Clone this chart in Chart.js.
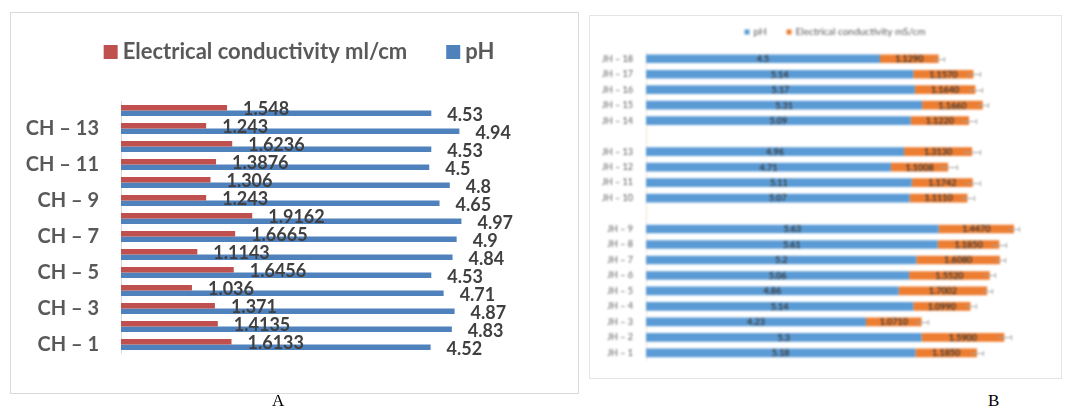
<!DOCTYPE html>
<html>
<head>
<meta charset="utf-8">
<script src="https://cdn.jsdelivr.net/npm/chart.js@4.4.0/dist/chart.umd.min.js"></script>
<style>
  html, body { margin: 0; padding: 0; background: #ffffff; }
  body { width: 1065px; height: 412px; position: relative; overflow: hidden; font-family: Lato, sans-serif; }
  .frame { position: absolute; box-sizing: border-box; border: 1px solid #d9d9d9; }
  #frameA { left: 10px; top: 12px; width: 569px; height: 382px; }
  #frameB { left: 589px; top: 15px; width: 473px; height: 364px; border-color: #e4e4e4; }
  canvas { position: absolute; }
  #chartA { left: 10px; top: 12px; }
  #chartB { left: 589px; top: 15px; filter: blur(0.9px); }
  .cap { position: absolute; top: 391px; font-family: "Liberation Serif", "DejaVu Serif", serif; font-size: 17px; color: #000; }
</style>
</head>
<body>
<div class="frame" id="frameA"></div>
<div class="frame" id="frameB"></div>
<canvas id="chartA" width="569" height="382"></canvas>
<canvas id="chartB" width="473" height="364"></canvas>
<div class="cap" style="left:272px;">A</div>
<div class="cap" style="left:988px;">B</div>

<script>
// ---- Panel A: CH samples (listed from CH – 1 upward) ----
const chCategories = ['CH – 1', 'CH – 2', 'CH – 3', 'CH – 4', 'CH – 5', 'CH – 6', 'CH – 7',
                      'CH – 8', 'CH – 9', 'CH – 10', 'CH – 11', 'CH – 12', 'CH – 13', 'CH – 14'];
const chConductivity = [1.6133, 1.4135, 1.371, 1.036, 1.6456, 1.1143, 1.6665,
                        1.9162, 1.243, 1.306, 1.3876, 1.6236, 1.243, 1.548];
const chPH = [4.52, 4.83, 4.87, 4.71, 4.53, 4.84, 4.9,
              4.97, 4.65, 4.8, 4.5, 4.53, 4.94, 4.53];
const chTickLabels = ['CH – 1', 'CH – 3', 'CH – 5', 'CH – 7', 'CH – 9', 'CH – 11', 'CH – 13'];

// ---- Panel B: JH samples (listed from JH – 1 upward, '' marks a spacer row) ----
const jhCategories = ['JH – 1', 'JH – 2', 'JH – 3', 'JH – 4', 'JH – 5', 'JH – 6', 'JH – 7', 'JH – 8', 'JH – 9',
                      '',
                      'JH – 10', 'JH – 11', 'JH – 12', 'JH – 13',
                      '',
                      'JH – 14', 'JH – 15', 'JH – 16', 'JH – 17', 'JH – 18'];
const jhPH = [5.18, 5.3, 4.23, 5.14, 4.86, 5.06, 5.2, 5.61, 5.63,
              null,
              5.07, 5.11, 4.71, 4.96,
              null,
              5.09, 5.31, 5.17, 5.14, 4.5];
const jhConductivity = [1.1850, 1.5900, 1.0710, 1.0990, 1.7002, 1.5520, 1.6080, 1.1850, 1.4470,
                        null,
                        1.1110, 1.1742, 1.1008, 1.3130,
                        null,
                        1.1220, 1.1660, 1.1640, 1.1570, 1.1290];
const jhConductivityError = [0.12, 0.13, 0.12, 0.10, 0.10, 0.10, 0.10, 0.13, 0.10,
                             null,
                             0.12, 0.13, 0.17, 0.15,
                             null,
                             0.13, 0.10, 0.13, 0.13, 0.10];

// Category axes run top-to-bottom, so the lists are flipped for display.
const flip = a => a.slice().reverse();

// Legend drawn as one centred row of square swatches.
const rowLegend = {
  id: 'rowLegend',
  afterDraw(chart, args, o) {
    const ctx = chart.ctx;
    ctx.save();
    ctx.font = o.font;
    ctx.textBaseline = 'middle';
    ctx.textAlign = 'left';
    const widths = o.items.map(it => o.box + o.textGap + ctx.measureText(it.text).width);
    const total = widths.reduce((s, w) => s + w, 0) + o.itemGap * (o.items.length - 1);
    let x = o.cx - total / 2;
    o.items.forEach((it, i) => {
      ctx.fillStyle = it.color;
      ctx.fillRect(x, o.cy - o.box / 2, o.box, o.box);
      ctx.fillStyle = o.textColor;
      ctx.fillText(it.text, x + o.box + o.textGap, o.cy + o.textShift);
      x += widths[i] + o.itemGap;
    });
    ctx.restore();
  }
};

// Value labels placed just past the end of each bar.
const endLabels = {
  id: 'endLabels',
  afterDatasetsDraw(chart, args, o) {
    const ctx = chart.ctx;
    ctx.save();
    ctx.font = o.font;
    ctx.fillStyle = o.color;
    ctx.textAlign = 'left';
    ctx.textBaseline = 'middle';
    chart.data.datasets.forEach((ds, di) => {
      chart.getDatasetMeta(di).data.forEach((bar, i) => {
        const v = ds.data[i];
        if (v == null) return;
        ctx.fillText(String(v), bar.x + o.dx, bar.y + o.dy);
      });
    });
    ctx.restore();
  }
};

// Value labels centred inside each stacked segment, plus the error whiskers.
const segmentLabels = {
  id: 'segmentLabels',
  afterDatasetsDraw(chart, args, o) {
    const ctx = chart.ctx;
    const xs = chart.scales.x;
    ctx.save();
    // whiskers at the end of the stack
    const top = chart.data.datasets[1];
    const meta1 = chart.getDatasetMeta(1);
    ctx.strokeStyle = o.whiskerColor;
    ctx.lineWidth = 1;
    meta1.data.forEach((bar, i) => {
      const err = o.errors[i];
      if (err == null || top.data[i] == null) return;
      const end = chart.data.datasets[0].data[i] + top.data[i];
      const x0 = xs.getPixelForValue(end - err);
      const x1 = xs.getPixelForValue(end + err);
      const y = Math.round(bar.y) + 0.5;
      ctx.beginPath();
      ctx.moveTo(x0, y); ctx.lineTo(x1, y);
      ctx.moveTo(Math.round(x1) + 0.5, y - 2.5); ctx.lineTo(Math.round(x1) + 0.5, y + 2.5);
      ctx.stroke();
    });
    ctx.font = o.font;
    ctx.fillStyle = o.color;
    ctx.textAlign = 'center';
    ctx.textBaseline = 'middle';
    chart.data.datasets.forEach((ds, di) => {
      chart.getDatasetMeta(di).data.forEach((bar, i) => {
        const v = ds.data[i];
        if (v == null) return;
        const txt = di === 1 ? v.toFixed(4) : String(v);
        ctx.fillText(txt, (bar.x + bar.base) / 2, bar.y + 0.5);
      });
    });
    ctx.restore();
  }
};

// ---------- Panel A ----------
new Chart(document.getElementById('chartA'), {
  type: 'bar',
  data: {
    labels: flip(chCategories),
    datasets: [
      { label: 'Electrical conductivity ml/cm', data: flip(chConductivity),
        backgroundColor: '#c0504d', categoryPercentage: 0.6, barPercentage: 1.0 },
      { label: 'pH', data: flip(chPH),
        backgroundColor: '#4f81bd', categoryPercentage: 0.6, barPercentage: 1.0 }
    ]
  },
  options: {
    indexAxis: 'y',
    responsive: false,
    animation: false,
    layout: { padding: { top: 89.5, bottom: 40.5, right: 47, left: 0 } },
    scales: {
      x: { display: false, min: 0, max: 6 },
      y: {
        afterFit: s => { s.width = 111; },
        grid: { display: false, drawTicks: false },
        border: { display: true, color: '#d9d9d9', width: 1 },
        ticks: {
          autoSkip: false,
          padding: 22,
          color: '#595959',
          font: { family: 'Lato', size: 20, weight: 'bold' },
          callback: function (value) {
            const name = this.getLabelForValue(value);
            return chTickLabels.includes(name) ? name : '';
          }
        }
      }
    },
    plugins: {
      legend: { display: false },
      tooltip: { enabled: false },
      rowLegend: {
        items: [
          { text: 'Electrical conductivity ml/cm', color: '#c0504d' },
          { text: 'pH', color: '#4f81bd' }
        ],
        font: 'bold 22px Lato', textColor: '#595959',
        cx: 289, cy: 40, box: 14, textGap: 5, itemGap: 39, textShift: 0
      },
      endLabels: { font: 'bold 18px Lato', color: '#404040', dx: 16, dy: 1.5 }
    }
  },
  plugins: [rowLegend, endLabels]
});

// ---------- Panel B ----------
new Chart(document.getElementById('chartB'), {
  type: 'bar',
  data: {
    labels: flip(jhCategories),
    datasets: [
      { label: 'pH', data: flip(jhPH), backgroundColor: '#5b9bd5',
        categoryPercentage: 1.0, barPercentage: 0.56 },
      { label: 'Electrical conductivity mS/cm', data: flip(jhConductivity), backgroundColor: '#ed7d31',
        categoryPercentage: 1.0, barPercentage: 0.56 }
    ]
  },
  options: {
    indexAxis: 'y',
    responsive: false,
    animation: false,
    layout: { padding: { top: 36, bottom: 10, right: 0, left: 0 } },
    scales: {
      x: { display: false, stacked: true, min: 0, max: 8 },
      y: {
        stacked: true,
        afterFit: s => { s.width = 57; },
        grid: { display: false, drawTicks: false },
        border: { display: true, color: '#f4e3d4', width: 1 },
        ticks: {
          autoSkip: false,
          padding: 13,
          color: '#595959',
          font: { family: 'Lato', size: 9 }
        }
      }
    },
    plugins: {
      legend: { display: false },
      tooltip: { enabled: false },
      rowLegend: {
        items: [
          { text: 'pH', color: '#5b9bd5' },
          { text: 'Electrical conductivity mS/cm', color: '#ed7d31' }
        ],
        font: '10px Lato', textColor: '#595959',
        cx: 246, cy: 17, box: 5, textGap: 4, itemGap: 20, textShift: 0
      },
      segmentLabels: {
        font: 'bold 9px Lato', color: '#3a3a3a',
        errors: flip(jhConductivityError), whiskerColor: '#a6a6a6'
      }
    }
  },
  plugins: [rowLegend, segmentLabels]
});
</script>
</body>
</html>
